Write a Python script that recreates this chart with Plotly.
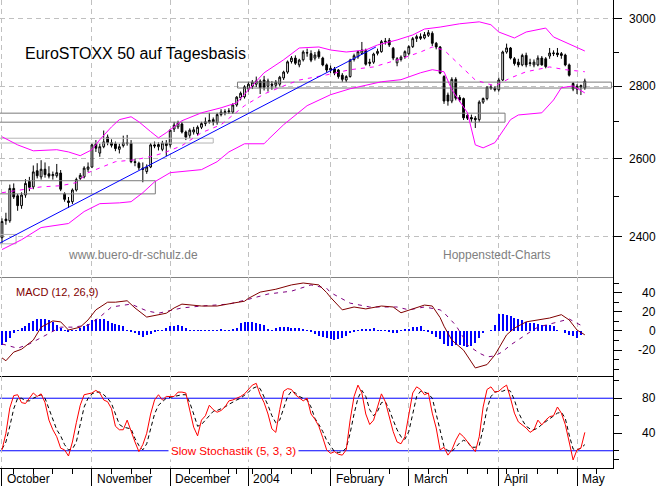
import math
import plotly.graph_objects as go

# ---------------- data ----------------
days = list(range(150))

opens = [2398, 2444, 2440, 2522, 2503, 2478, 2505, 2540, 2526, 2568, 2552, 2572, 2560, 2555, 2555, 2562, 2508, 2490, 2488, 2518, 2548, 2552, 2572,
         2578, 2640, 2615, 2632, 2658, 2643, 2640, 2625, 2635, 2643, 2642, 2592, 2588, 2575, 2566, 2578, 2637, 2632, 2625, 2642,
         2637, 2680, 2686, 2694, 2672, 2663, 2672, 2668, 2685, 2695, 2700, 2706, 2698, 2720, 2725, 2728, 2727, 2747, 2767, 2770,
         2792, 2800, 2806, 2815, 2818, 2800, 2806, 2803, 2806, 2824, 2841, 2872, 2882, 2862, 2877, 2897, 2895, 2882, 2901, 2882, 2862,
         2847, 2850, 2847, 2832, 2818, 2828, 2878, 2886, 2896, 2904, 2870, 2870, 2896, 2901, 2930, 2935, 2911, 2868, 2878, 2886,
         2895, 2916, 2940, 2946, 2942, 2950, 2956, 2926, 2915, 2828, 2775, 2758, 2820, 2768, 2765, 2718, 2712, 2710, 2706, 2755, 2765, 2798, 2795,
         2790, 2818, 2900, 2912, 2880, 2870, 2862, 2890, 2866, 2862, 2862, 2882, 2880, 2888, 2895, 2897, 2895, 2891, 2862, 2808,
         2800, 2798, 2795]
highs = [2446, 2460, 2532, 2535, 2508, 2512, 2546, 2552, 2582, 2588, 2596, 2590, 2580, 2566, 2586, 2570, 2512, 2500, 2522, 2550, 2562, 2580, 2590,
         2641, 2650, 2640, 2676, 2665, 2652, 2646, 2640, 2662, 2664, 2650, 2600, 2592, 2590, 2585, 2642, 2646, 2644, 2648, 2650,
         2680, 2700, 2703, 2700, 2676, 2682, 2686, 2690, 2700, 2712, 2725, 2712, 2725, 2735, 2735, 2738, 2752, 2772, 2785, 2803,
         2812, 2818, 2828, 2820, 2830, 2822, 2815, 2818, 2830, 2845, 2875, 2888, 2890, 2880, 2905, 2910, 2905, 2900, 2908, 2886, 2866,
         2860, 2856, 2850, 2838, 2832, 2880, 2895, 2904, 2930, 2910, 2880, 2898, 2910, 2936, 2942, 2942, 2915, 2885, 2890, 2905,
         2920, 2945, 2952, 2956, 2960, 2966, 2962, 2930, 2918, 2832, 2782, 2826, 2826, 2775, 2768, 2725, 2720, 2716, 2760, 2768, 2800, 2805, 2800,
         2825, 2904, 2925, 2915, 2885, 2880, 2895, 2898, 2880, 2878, 2890, 2888, 2885, 2912, 2905, 2912, 2900, 2895, 2866, 2812,
         2806, 2805, 2822]
lows = [2384, 2430, 2435, 2495, 2465, 2470, 2498, 2515, 2520, 2548, 2545, 2550, 2548, 2545, 2550, 2515, 2488, 2472, 2482, 2514, 2544, 2548, 2565,
        2575, 2618, 2605, 2628, 2636, 2630, 2620, 2614, 2630, 2635, 2588, 2580, 2570, 2538, 2560, 2575, 2628, 2622, 2620, 2607,
        2630, 2672, 2680, 2668, 2650, 2655, 2665, 2662, 2680, 2688, 2695, 2690, 2692, 2715, 2718, 2722, 2722, 2742, 2760, 2765,
        2785, 2792, 2798, 2778, 2788, 2785, 2790, 2796, 2800, 2818, 2836, 2866, 2862, 2855, 2872, 2886, 2870, 2875, 2880, 2858, 2840,
        2838, 2832, 2822, 2813, 2812, 2825, 2872, 2880, 2892, 2860, 2858, 2865, 2890, 2898, 2922, 2915, 2876, 2858, 2872, 2880,
        2890, 2912, 2930, 2936, 2938, 2945, 2918, 2908, 2835, 2750, 2745, 2752, 2760, 2755, 2705, 2705, 2700, 2683, 2700, 2750, 2760, 2790, 2785,
        2785, 2815, 2895, 2878, 2860, 2855, 2858, 2855, 2858, 2855, 2858, 2860, 2852, 2880, 2888, 2885, 2880, 2858, 2828, 2786,
        2778, 2775, 2790]
closes = [2438, 2440, 2522, 2500, 2478, 2505, 2535, 2525, 2565, 2555, 2572, 2558, 2554, 2558, 2563, 2520, 2494, 2486, 2518, 2545, 2556, 2575, 2578,
          2637, 2628, 2632, 2645, 2643, 2636, 2627, 2632, 2643, 2641, 2592, 2590, 2576, 2572, 2578, 2637, 2634, 2638, 2642, 2635,
          2677, 2691, 2697, 2672, 2658, 2677, 2678, 2685, 2695, 2700, 2704, 2700, 2720, 2727, 2728, 2730, 2747, 2769, 2780, 2798,
          2806, 2812, 2815, 2796, 2797, 2815, 2803, 2812, 2826, 2841, 2871, 2882, 2867, 2876, 2900, 2898, 2876, 2891, 2886, 2862, 2847,
          2852, 2838, 2828, 2820, 2828, 2876, 2889, 2901, 2906, 2864, 2867, 2894, 2902, 2931, 2932, 2921, 2882, 2880, 2885, 2901,
          2916, 2940, 2946, 2941, 2952, 2958, 2926, 2915, 2838, 2758, 2758, 2820, 2766, 2761, 2711, 2710, 2708, 2706, 2755, 2765, 2797, 2795, 2790,
          2818, 2900, 2912, 2882, 2866, 2862, 2890, 2862, 2868, 2870, 2882, 2862, 2857, 2897, 2897, 2892, 2890, 2862, 2832, 2792,
          2792, 2802, 2815]

upper_day = [0, 4, 8, 14, 17, 20, 23, 25, 28, 30, 33, 35, 38, 40, 42, 46, 51, 56, 60, 63, 67, 72, 76, 81, 84, 88, 93, 96, 101, 105, 108, 112, 117, 122, 125, 127, 131, 134, 139, 141, 147, 149]
upper_val = [2659, 2637, 2621, 2624, 2618, 2608, 2624, 2651, 2686, 2706, 2714, 2700, 2673, 2656, 2670, 2703, 2725, 2739, 2753, 2790, 2839, 2877, 2912, 2915, 2906, 2900, 2906, 2921, 2936, 2951, 2969, 2975, 2985, 2991, 2982, 2960, 2942, 2960, 2972, 2945, 2915, 2903]
mid_day = [0, 5, 10, 15, 19, 22, 25, 29, 34, 39, 42, 46, 51, 56, 62, 67, 72, 76, 83, 89, 95, 102, 107, 110, 113, 117, 121, 126, 130, 134, 140, 144, 149]
mid_val = [2511, 2519, 2526, 2529, 2537, 2563, 2576, 2592, 2597, 2608, 2618, 2635, 2670, 2692, 2745, 2778, 2801, 2818, 2833, 2848, 2856, 2880, 2900, 2915, 2906, 2862, 2818, 2801, 2824, 2842, 2856, 2848, 2842]
lower_day = [0, 5, 10, 17, 21, 25, 30, 33, 36, 39, 43, 51, 55, 58, 62, 67, 68, 72, 78, 84, 89, 97, 102, 107, 110, 113, 115, 119, 121, 123, 126, 130, 132, 138, 141, 143, 146, 149]
lower_val = [2369, 2393, 2423, 2433, 2463, 2483, 2485, 2488, 2511, 2539, 2563, 2571, 2592, 2618, 2640, 2640, 2651, 2692, 2745, 2776, 2793, 2813, 2819, 2839, 2848, 2842, 2790, 2725, 2637, 2629, 2643, 2706, 2719, 2725, 2761, 2796, 2801, 2781]

trend_day = [-0.5, 95.6]
trend_val = [2385, 2915]

zone_start = [60.2, -3, -3, -3, -3]
zone_end = [155.8, 128.6, 54.0, 39.2, 3.6]
zone_low = [2795, 2699, 2642, 2508, 2383]
zone_high = [2812, 2724, 2655, 2542, 2406]
zone_color = ['#7a7a7a', '#7a7a7a', '#b4b4b4', '#7a7a7a', '#b4b4b4']

macd_day = [0, 1, 3, 5, 8, 10, 13, 15, 17, 20, 22, 24, 27, 29, 32, 34, 37, 40, 42, 44, 46, 51, 55, 59, 62, 63, 66, 70, 74, 77, 81, 83, 84, 87, 90, 93, 97, 100, 102, 105, 108, 110, 112, 113, 115, 118, 121, 124, 126, 129, 131, 134, 137, 140, 143, 145, 147, 149]
macd_val = [-28, -31, -22, -19, -9.5, 4, 10.5, 9.5, 1, 4, 11.5, 22, 30, 30, 31.5, 24, 14.5, 17, 18.5, 24, 28, 26, 26, 29, 31, 34, 40.5, 43.5, 48, 50, 48, 40, 35, 22, 25, 23, 26, 25, 19, 23, 27, 26, 14, 5, -9.5, -20, -38.5, -35, -25, -4, 3, 9.5, 11.5, 13.5, 17, 11.5, 1, -4]
sig_day = [0, 4, 7, 12, 15, 18, 22, 25, 28, 33, 37, 40, 46, 51, 58, 63, 68, 74, 79, 83, 84, 89, 94, 101, 104, 108, 112, 113, 116, 118, 119, 122, 124, 126, 128, 130, 133, 135, 137, 139, 143, 145, 147, 149]
sig_val = [-13.5, -18, -13.5, -2, 4, 4, 6, 14.5, 25, 28, 21, 18.5, 24, 26, 28, 33, 38.5, 41.5, 48, 44.5, 40, 29, 25, 25, 22, 25, 22, 19, 6, -7, -14.6, -23, -27, -26, -21.5, -14.6, -6, -1, 4, 6, 10.5, 12.5, 8, 4]
hist_val = [-14.5, -11, -7, -2, 1, 3, 5, 8, 10, 13, 13, 12, 11, 9, 6, 3.5, 1, -1, 0.5, 1, 3, 5, 7,
            11, 13, 12, 13, 10, 8.5, 7, 6, 5, 1, -0.5, -2.5, -4, -6, -4, -3, -1, 0.5, 1, 3.5,
            5, 5.5, 6.5, 5, 3.5, 1, 0.5, 1, 1, 1, 1, 1, 1, 1.5, 1, 1, 1.5, 3, 8.5,
            9, 9.5, 9, 8.5, 7.5, 6, 2, 1, 3, 4, 4.5, 4, 3.5, 3, 3, 2, 0.5, -1, -3, -5, -6,
            -7.5, -8, -9, -8, -7.5, -5, -2.5, -1.5, 1, 1.5, 1.5, 2, 3, 1, 1, 0.5, -1.5, -2, -2, 0.5,
            2, 2.5, 4, 4, 5.5, 1, -1, -3, -6, -8, -13.5, -16, -15.5, -15, -14.5, -16, -17, -15.5, -13, -7.5, -2.5, 0, 0.5,
            6, 18, 18, 17, 15.5, 14, 12, 11, 9.5, 8.5, 8, 7, 6, 6, 6, 5.5, 1, 0, -2, -4.5,
            -5, -7, -4.5]

stoch_k = [21, 40, 69, 83, 84, 75, 74, 80, 86, 82, 85, 75, 55, 44, 36, 23, 21, 14, 30, 52, 72, 84, 85,
           86, 89, 86, 78, 76, 68, 48, 44, 44, 55, 42, 30, 19, 27, 40, 62, 78, 84, 78, 82,
           82, 82, 87, 87, 86, 67, 47, 37, 55, 60, 72, 67, 64, 66, 70, 77, 78, 80, 82, 85,
           90, 95, 97, 84, 75, 62, 45, 41, 67, 88, 91, 90, 84, 80, 77, 80, 62, 56, 48, 35, 21,
           17, 19, 16, 15, 21, 55, 82, 95, 86, 62, 50, 55, 70, 85, 76, 58, 42, 30, 28, 36,
           63, 86, 93, 90, 84, 86, 63, 46, 21, 24, 15, 21, 32, 40, 36, 30, 25, 19, 36, 70, 90, 93, 87,
           88, 92, 95, 80, 63, 53, 50, 46, 41, 44, 55, 49.5, 55, 59, 60, 70, 63, 50, 30, 9.5,
           21, 23, 41]
stoch_d = [22, 30, 48, 68, 80, 80, 77, 77, 80, 82, 84, 80, 68, 55, 44, 37, 27, 21, 22, 30, 50, 70, 80,
           85, 87, 87, 84, 80, 74, 62, 50, 47, 46, 45, 34, 26, 21, 28, 45, 62, 72, 76, 80,
           81, 82, 83, 84, 84, 75, 62, 48, 50, 55, 60, 65, 66, 68, 70, 73, 76, 78, 80, 83,
           87, 91, 93, 91, 82, 72, 60, 52, 55, 70, 82, 88, 86, 82, 80, 78, 70, 57, 50, 42, 32,
           25, 19, 18, 19, 23, 40, 62, 80, 89, 82, 67, 60, 65, 75, 76, 67, 55, 44, 36, 33,
           42, 62, 82, 88, 87, 85, 80, 62, 43, 25, 20, 19, 24, 29, 32, 30, 24, 24, 26, 45, 68, 82, 87,
           88, 88, 90, 88, 78, 64, 55, 48, 45, 44, 46, 50, 53, 56, 59, 63, 64, 57, 38, 22,
           21, 23, 27]
stoch_levels = [80, 20]

month_days = [0, 23, 43, 63, 84, 104, 127, 147]
month_names = ["October", "November", "December", "2004", "February", "March", "April", "May"]
week_days = [3, 8, 13, 18, 28, 33, 38, 48, 53, 58, 60, 64, 69, 74, 79, 89, 94, 99, 109, 114, 119, 124, 129, 132, 137, 142, 152]

price_ticks = [2400, 2600, 2800, 3000]
price_minor = [2500, 2700, 2900]
macd_ticks = [-20, 0, 20, 40]
macd_minor = [-40, -30, -10, 10, 30, 50]
stoch_ticks = [40, 80]
stoch_minor = [10, 20, 60, 100]

# ---------------- figure ----------------
FONT = "Liberation Sans, Arial, sans-serif"
W, H = 662, 486
ML, MR, MT, MB = 0, 49, 0, 18
PW, PH = W - ML - MR, H - MT - MB
XR = [-0.51, 156.2]
GRID = '#c0c0c0'

fig = go.Figure()

# support / resistance zones
for x0, x1, lo, hi, col in zip(zone_start, zone_end, zone_low, zone_high, zone_color):
    fig.add_trace(go.Scatter(x=[x0, x1, x1, x0, x0], y=[lo, lo, hi, hi, lo], mode='lines',
                             line=dict(color=col, width=1), hoverinfo='skip', showlegend=False,
                             xaxis='x', yaxis='y'))

fig.add_trace(go.Candlestick(x=days, open=opens, high=highs, low=lows, close=closes,
                             increasing=dict(line=dict(color='black', width=1), fillcolor='white'),
                             decreasing=dict(line=dict(color='black', width=1), fillcolor='black'),
                             whiskerwidth=0, showlegend=False, hoverinfo='skip',
                             xaxis='x', yaxis='y'))

fig.add_trace(go.Scatter(x=upper_day, y=upper_val, mode='lines', line=dict(color='#ff00ff', width=1),
                         showlegend=False, hoverinfo='skip', xaxis='x', yaxis='y'))
fig.add_trace(go.Scatter(x=lower_day, y=lower_val, mode='lines', line=dict(color='#ff00ff', width=1),
                         showlegend=False, hoverinfo='skip', xaxis='x', yaxis='y'))
fig.add_trace(go.Scatter(x=mid_day, y=mid_val, mode='lines', line=dict(color='#ff00ff', width=1, dash='4px,5px'),
                         showlegend=False, hoverinfo='skip', xaxis='x', yaxis='y'))
fig.add_trace(go.Scatter(x=trend_day, y=trend_val, mode='lines', line=dict(color='#0000ff', width=1),
                         showlegend=False, hoverinfo='skip', xaxis='x', yaxis='y'))

# MACD
fig.add_trace(go.Bar(x=days, y=hist_val, width=0.26, marker=dict(color='#0000ff', line=dict(width=0)),
                     showlegend=False, hoverinfo='skip', xaxis='x2', yaxis='y2'))
fig.add_trace(go.Scatter(x=sig_day, y=sig_val, mode='lines', line=dict(color='#800080', width=1, dash='4px,5px'),
                         showlegend=False, hoverinfo='skip', xaxis='x2', yaxis='y2'))
fig.add_trace(go.Scatter(x=macd_day, y=macd_val, mode='lines', line=dict(color='#800000', width=1),
                         showlegend=False, hoverinfo='skip', xaxis='x2', yaxis='y2'))

# Stochastic
fig.add_trace(go.Scatter(x=days, y=stoch_d, mode='lines', line=dict(color='black', width=1, dash='4px,3px'),
                         showlegend=False, hoverinfo='skip', xaxis='x3', yaxis='y3'))
fig.add_trace(go.Scatter(x=days, y=stoch_k, mode='lines', line=dict(color='#ff0000', width=1),
                         showlegend=False, hoverinfo='skip', xaxis='x3', yaxis='y3'))

shapes = []
for lv in stoch_levels:
    shapes.append(dict(type='line', xref='paper', x0=0, x1=1, yref='y3', y0=lv, y1=lv,
                       line=dict(color='#0000ff', width=1), layer='below'))

d_price = [(PH - 277) / PH, 1]
d_macd = [(PH - 376) / PH, (PH - 277) / PH]
d_stoch = [0, (PH - 376) / PH]

xcommon = dict(range=XR, tickmode='array', tickvals=month_days, showgrid=True, gridcolor=GRID,
               griddash='5px,4px', gridwidth=1, zeroline=False, showticklabels=False, fixedrange=True)
ycommon = dict(side='right', showline=True, linecolor='black', linewidth=1, ticks='outside', ticklen=8,
               tickcolor='black', tickwidth=1, showticklabels=False, zeroline=False, tickmode='array')

fig.update_layout(
    width=W, height=H, margin=dict(l=ML, r=MR, t=MT, b=MB, pad=0),
    paper_bgcolor='white', plot_bgcolor='white', font=dict(family=FONT, size=12, color='black'),
    showlegend=False, bargap=0, boxgap=0.35,
    xaxis=dict(**xcommon, anchor='y', domain=[0, 1], showline=True, linecolor='#808080', linewidth=1,
               rangeslider=dict(visible=False), ticks=''),
    xaxis2=dict(**xcommon, anchor='y2', domain=[0, 1], showline=True, linecolor='black', linewidth=1, ticks=''),
    xaxis3=dict(**xcommon, anchor='y3', domain=[0, 1], showline=True, linecolor='black', linewidth=1,
                ticks='outside', ticklen=18, tickcolor='black', tickwidth=1,
                minor=dict(tickmode='array', tickvals=week_days, ticks='outside', ticklen=5, tickcolor='black',
                           tickwidth=1, showgrid=False)),
    yaxis=dict(**ycommon, domain=d_price, type='log',
               range=[math.log10(2303.4), math.log10(3058.6)], tickvals=price_ticks,
               showgrid=True, gridcolor=GRID, griddash='5px,4px', gridwidth=1,
               minor=dict(tickmode='array', tickvals=price_minor, ticks='outside', ticklen=5, tickcolor='black', showgrid=False)),
    yaxis2=dict(**ycommon, domain=d_macd, range=[-46.9, 56.25], tickvals=macd_ticks, showgrid=False,
                minor=dict(tickmode='array', tickvals=macd_minor, ticks='outside', ticklen=5, tickcolor='black', showgrid=False)),
    yaxis3=dict(**ycommon, domain=d_stoch, range=[0.3, 105.4], tickvals=stoch_ticks, showgrid=False,
                minor=dict(tickmode='array', tickvals=stoch_minor, ticks='outside', ticklen=5, tickcolor='black', showgrid=False)),
    shapes=shapes,
)

ann = []
LX = 658 / PW
for v in price_ticks:
    ann.append(dict(x=LX, xref='paper', y=math.log10(v), yref='y', text=str(v), showarrow=False,
                    xanchor='right', yanchor='middle', font=dict(size=12, color='black')))
for v in macd_ticks:
    ann.append(dict(x=LX, xref='paper', y=v, yref='y2', text=str(v), showarrow=False,
                    xanchor='right', yanchor='middle', font=dict(size=12, color='black')))
for v in stoch_ticks:
    ann.append(dict(x=LX, xref='paper', y=v, yref='y3', text=str(v), showarrow=False,
                    xanchor='right', yanchor='middle', font=dict(size=12, color='black')))

for d, name in zip(month_days, month_names):
    ann.append(dict(x=d, xref='x3', xshift=3, y=-(479 - PH) / PH, yref='paper', text=name, showarrow=False,
                    xanchor='left', yanchor='middle', font=dict(size=12, color='black')))

ann.append(dict(x=23 / PW, xref='paper', y=(PH - 53) / PH, yref='paper', text='EuroSTOXX 50 auf Tagesbasis',
                showarrow=False, xanchor='left', yanchor='middle', font=dict(size=16, color='black')))
ann.append(dict(x=66 / PW, xref='paper', y=(PH - 255) / PH, yref='paper', text='www.buero-dr-schulz.de',
                showarrow=False, xanchor='left', yanchor='middle', font=dict(size=12, color='#808080')))
ann.append(dict(x=441 / PW, xref='paper', y=(PH - 255) / PH, yref='paper', text='Hoppenstedt-Charts',
                showarrow=False, xanchor='left', yanchor='middle', font=dict(size=12, color='#808080')))
ann.append(dict(x=14 / PW, xref='paper', y=(PH - 292) / PH, yref='paper', text='MACD (12, 26,9)',
                showarrow=False, xanchor='left', yanchor='middle', font=dict(size=11, color='#800000')))
ann.append(dict(x=168 / PW, xref='paper', y=20, yref='y3', text='Slow Stochastik (5, 3, 3)',
                showarrow=False, xanchor='left', yanchor='middle', bgcolor='white', borderpad=2,
                font=dict(size=11.6, color='#ff0000')))
fig.update_layout(annotations=ann)

fig.write_html("out.html")
